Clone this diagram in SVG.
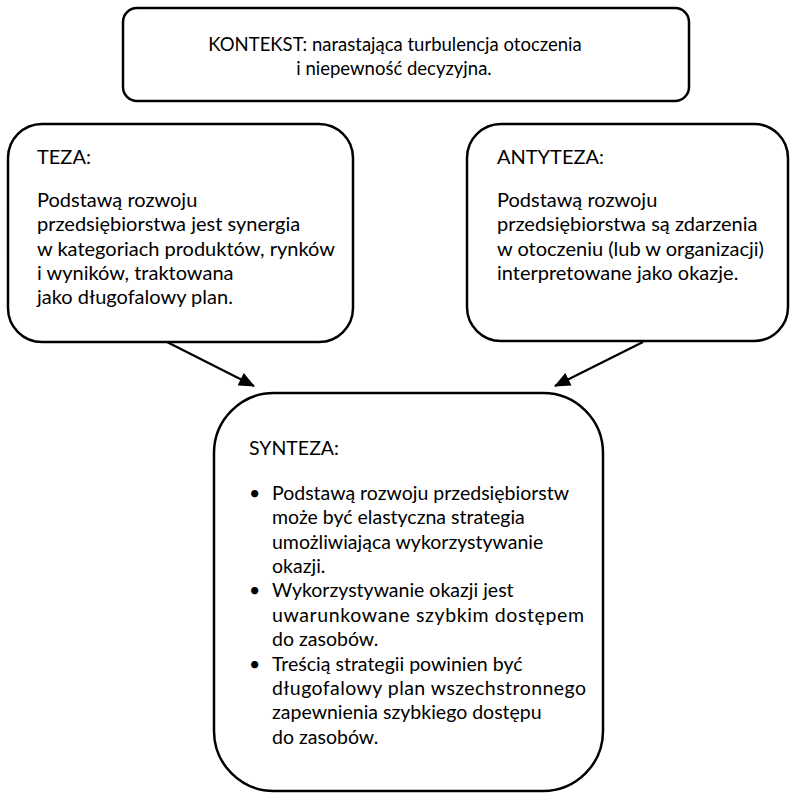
<svg xmlns="http://www.w3.org/2000/svg" width="790" height="794" viewBox="0 0 790 794">
<defs>
<style>
.box{fill:#fff;stroke:#000;stroke-width:2.5}
.t{font-family:Lato,"Liberation Sans",sans-serif;font-size:19.5px;fill:#000}
.s{font-size:18.5px}
.m{font-size:20px}
.c{text-anchor:middle}
.conn{stroke:#000;stroke-width:2.2;fill:none}
</style>
<marker id="ah" viewBox="0 0 16 14" refX="15" refY="7" markerWidth="16" markerHeight="14" orient="auto" markerUnits="userSpaceOnUse"><path d="M0,0 L16,7 L0,14 z" fill="#000"/></marker>
</defs>
<rect width="790" height="794" fill="#fff"/>
<g id="kontekst">
<rect class="box" x="123" y="8" width="566" height="93" rx="14"/>
<text class="t s c" x="395" y="51">KONTEKST: narastająca turbulencja otoczenia</text>
<text class="t s c" x="394" y="75">i niepewność decyzyjna.</text>
</g>
<g id="teza">
<rect class="box" x="8" y="124" width="345" height="218" rx="34"/>
<text class="t m" x="37" y="164">TEZA:</text>
<text class="t m" x="37" y="207">Podstawą rozwoju</text>
<text class="t m" x="37" y="231.4">przedsiębiorstwa jest synergia</text>
<text class="t m" x="37" y="255.7">w kategoriach produktów, rynków</text>
<text class="t m" x="37" y="280.1">i wyników, traktowana</text>
<text class="t m" x="37" y="304.4">jako długofalowy plan.</text>
</g>
<g id="antyteza">
<rect class="box" x="467" y="124" width="321" height="217" rx="34"/>
<text class="t m" x="497" y="164">ANTYTEZA:</text>
<text class="t m" x="497" y="207">Podstawą rozwoju</text>
<text class="t m" x="497" y="231.4">przedsiębiorstwa są zdarzenia</text>
<text class="t m" x="497" y="255.7">w otoczeniu (lub w organizacji)</text>
<text class="t m" x="497" y="280.1">interpretowane jako okazje.</text>
</g>
<g id="synteza">
<rect class="box" x="214" y="393" width="389" height="398" rx="60"/>
<text class="t" x="249" y="455">SYNTEZA:</text>
<text class="t" x="249" y="500">•</text>
<text class="t" x="272" y="500">Podstawą rozwoju przedsiębiorstw</text>
<text class="t" x="272" y="524.4">może być elastyczna strategia</text>
<text class="t" x="272" y="548.7">umożliwiająca wykorzystywanie</text>
<text class="t" x="272" y="573.1">okazji.</text>
<text class="t" x="249" y="597.4">•</text>
<text class="t" x="272" y="597.4">Wykorzystywanie okazji jest</text>
<text class="t" x="272" y="621.8" textLength="312" lengthAdjust="spacing">uwarunkowane szybkim dostępem</text>
<text class="t" x="272" y="646.2">do zasobów.</text>
<text class="t" x="249" y="670.5">•</text>
<text class="t" x="272" y="670.5">Treścią strategii powinien być</text>
<text class="t" x="272" y="694.9" textLength="314" lengthAdjust="spacing">długofalowy plan wszechstronnego</text>
<text class="t" x="272" y="719.3">zapewnienia szybkiego dostępu</text>
<text class="t" x="272" y="743.6">do zasobów.</text>
</g>
<g id="connectors">
<line class="conn" x1="167" y1="342" x2="254" y2="386" marker-end="url(#ah)"/>
<line class="conn" x1="643" y1="342" x2="555" y2="386" marker-end="url(#ah)"/>
</g>
</svg>
